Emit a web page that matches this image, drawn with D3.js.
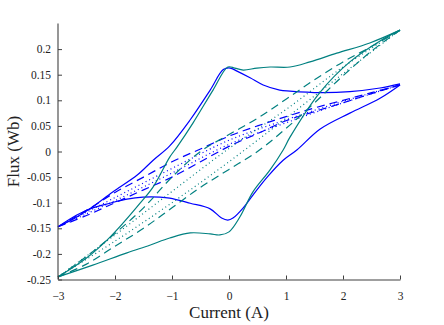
<!DOCTYPE html>
<html>
<head>
<meta charset="utf-8">
<script src="https://cdn.jsdelivr.net/npm/d3@7"></script>
<style>
  body { margin: 0; background: #fff; }
  svg text { font-family: "Liberation Serif", "DejaVu Serif", serif; }
</style>
</head>
<body>
<div id="wrapper"></div>
<script>
// Each branch is a list of [current (A), flux (Wb)].
const blueSolidUp = [
  [3, 0.132], [2.65, 0.124], [2.12, 0.117], [1.6, 0.115], [1.07, 0.118],
  [0.89, 0.12], [0.6, 0.13], [0.37, 0.144], [0.14, 0.157], [0.02, 0.163],
  [-0.1, 0.16], [-0.33, 0.12], [-0.68, 0.062], [-1.04, 0.011], [-1.33, -0.017],
  [-1.61, -0.046], [-2.04, -0.079], [-2.39, -0.108], [-2.67, -0.128], [-3, -0.147],
]
const blueSolidDown = [
  [-3, -0.147], [-2.67, -0.124], [-2.39, -0.11], [-2.09, -0.101], [-1.79, -0.093],
  [-1.51, -0.089], [-1.21, -0.089], [-1.04, -0.091], [-0.68, -0.101], [-0.33, -0.112],
  [-0.13, -0.13], [-0.02, -0.134], [0.07, -0.13], [0.25, -0.11], [0.42, -0.085],
  [0.67, -0.05], [0.95, -0.017], [1.19, 0.003], [1.6, 0.044], [2.12, 0.075],
  [2.65, 0.104], [3, 0.13],
]
const blueDashUp = [
  [3, 0.13], [2.5, 0.115], [2, 0.1], [1.5, 0.085], [1, 0.068], [0.5, 0.05],
  [0, 0.03], [-0.5, 0.005], [-1, -0.02], [-1.5, -0.05], [-2, -0.08],
  [-2.5, -0.115], [-3, -0.147],
]
const blueDashDown = [
  [-3, -0.147], [-2.5, -0.125], [-2, -0.1], [-1.5, -0.075], [-1, -0.05],
  [-0.5, -0.02], [0, 0.01], [0.5, 0.035], [1, 0.06], [1.5, 0.078], [2, 0.095],
  [2.5, 0.113], [3, 0.13],
]
const blueDotUp = [
  [3, 0.13], [2, 0.098], [1, 0.062], [0, 0.022], [-1, -0.033], [-2, -0.09], [-3, -0.147],
]
const blueDotDown = [
  [-3, -0.147], [-2, -0.096], [-1, -0.042], [0, 0.014], [1, 0.056], [2, 0.095], [3, 0.13],
]
const tealSolidUp = [
  [3, 0.237], [2.47, 0.212], [1.89, 0.192], [1.42, 0.175], [1.07, 0.165],
  [0.72, 0.165], [0.49, 0.163], [0.25, 0.159], [0.1, 0.163], [-0.02, 0.165],
  [-0.28, 0.12], [-0.63, 0.056], [-0.91, 0.009], [-1.04, -0.011], [-1.33, -0.069],
  [-1.56, -0.101], [-1.86, -0.14], [-2.14, -0.173], [-2.5, -0.208], [-3, -0.245],
]
const tealSolidDown = [
  [-3, -0.245], [-2.39, -0.222], [-1.79, -0.198], [-1.39, -0.183], [-1.04, -0.169],
  [-0.68, -0.159], [-0.33, -0.161], [-0.16, -0.163], [0, -0.157], [0.19, -0.128],
  [0.42, -0.079], [0.72, -0.036], [0.95, 0.003], [1.07, 0.028], [1.6, 0.116],
  [2.12, 0.175], [2.65, 0.216], [3, 0.237],
]
const tealDashUp = [
  [3, 0.237], [2.5, 0.205], [2, 0.175], [1.5, 0.14], [1, 0.102], [0.5, 0.065],
  [0, 0.033], [-0.5, 0], [-1, -0.05], [-1.5, -0.11], [-2, -0.16], [-2.5, -0.205],
  [-3, -0.245],
]
const tealDashDown = [
  [-3, -0.245], [-2.5, -0.22], [-2, -0.185], [-1.5, -0.15], [-1, -0.11],
  [-0.5, -0.07], [0, -0.035], [0.5, 0], [1, 0.045], [1.5, 0.095], [2, 0.148],
  [2.5, 0.196], [3, 0.237],
]
const tealDotUp = [
  [3, 0.237], [2, 0.165], [1, 0.082], [0, 0.006], [-1, -0.078], [-2, -0.163], [-3, -0.245],
]
const tealDotDown = [
  [-3, -0.245], [-2, -0.175], [-1, -0.1], [0, -0.02], [1, 0.065], [2, 0.152], [3, 0.237],
]
const xTicks = [-3, -2, -1, 0, 1, 2, 3]
const yTicks = [-0.25, -0.2, -0.15, -0.1, -0.05, 0, 0.05, 0.1, 0.15, 0.2]

const series = [
  { up: blueSolidUp, down: blueSolidDown, color: "#0000ff", dash: null },
  { up: blueDashUp, down: blueDashDown, color: "#0000ff", dash: "8,5" },
  { up: blueDotUp, down: blueDotDown, color: "#0000ff", dash: "1,3" },
  { up: tealSolidUp, down: tealSolidDown, color: "#008080", dash: null },
  { up: tealDashUp, down: tealDashDown, color: "#008080", dash: "8,5" },
  { up: tealDotUp, down: tealDotDown, color: "#008080", dash: "1,3" },
]

const dimensions = {
  width: 444,
  height: 325,
  margin: { top: 23.5, right: 44, bottom: 45.5, left: 58 },
}
dimensions.boundedWidth = dimensions.width - dimensions.margin.left - dimensions.margin.right
dimensions.boundedHeight = dimensions.height - dimensions.margin.top - dimensions.margin.bottom

const svg = d3.select("#wrapper").append("svg")
  .attr("width", dimensions.width)
  .attr("height", dimensions.height)

const bounds = svg.append("g")
  .attr("transform", `translate(${dimensions.margin.left},${dimensions.margin.top})`)

const xScale = d3.scaleLinear().domain([-3, 3]).range([0, dimensions.boundedWidth])
const yScale = d3.scaleLinear().domain([-0.25, 0.25]).range([dimensions.boundedHeight, 0])

const lineGenerator = d3.line()
  .x(d => xScale(d[0]))
  .y(d => yScale(d[1]))
  .curve(d3.curveCatmullRom.alpha(0.5))

// curves
series.forEach(s => {
  ;[s.up, s.down].forEach(branch => {
    bounds.append("path")
      .attr("d", lineGenerator(branch))
      .attr("fill", "none")
      .attr("stroke", s.color)
      .attr("stroke-width", 1.2)
      .attr("stroke-dasharray", s.dash)
  })
})

// axes: ticks point inward
const xAxis = bounds.append("g")
  .attr("transform", `translate(0,${dimensions.boundedHeight})`)
  .call(d3.axisBottom(xScale).tickValues(xTicks).tickSizeInner(-4).tickSizeOuter(0)
    .tickPadding(12).tickFormat(d3.format("d")))
const yAxis = bounds.append("g")
  .call(d3.axisLeft(yScale).tickValues(yTicks).tickSizeInner(-4).tickSizeOuter(0)
    .tickPadding(7).tickFormat(d => d === 0 ? "0" : String(d)))

;[xAxis, yAxis].forEach(ax => {
  ax.select(".domain").attr("stroke", "#404040").attr("stroke-width", 1.1)
  ax.selectAll(".tick line").attr("stroke", "#404040")
  ax.selectAll(".tick text")
    .attr("fill", "#222")
    .style("font-family", "'Liberation Serif', serif")
    .style("font-size", "11.5px")
})
// extend y domain line up to top
yAxis.select(".domain").attr("d", `M0,${dimensions.boundedHeight}V0`)

svg.append("text")
  .attr("x", dimensions.margin.left + xScale(0))
  .attr("y", 318)
  .attr("text-anchor", "middle")
  .attr("fill", "#222")
  .style("font-size", "17px")
  .text("Current (A)")

svg.append("text")
  .attr("transform", `translate(19,${dimensions.margin.top + yScale(0)}) rotate(-90)`)
  .attr("text-anchor", "middle")
  .attr("fill", "#222")
  .style("font-size", "17px")
  .text("Flux (Wb)")
</script>
</body>
</html>
